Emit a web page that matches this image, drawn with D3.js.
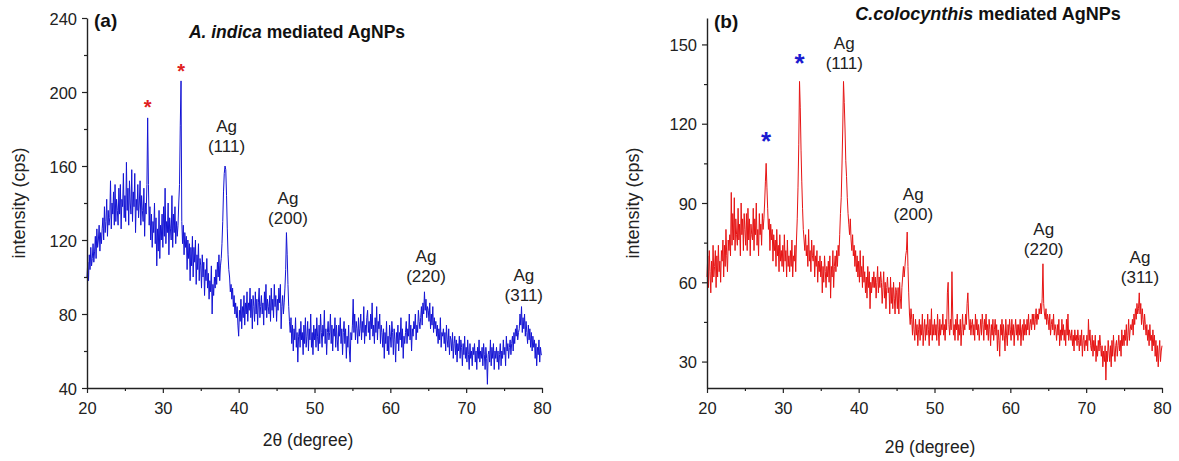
<!DOCTYPE html>
<html><head><meta charset="utf-8">
<script src="https://cdn.jsdelivr.net/npm/d3@7"></script>
<style>
html,body{margin:0;padding:0;background:#fff;}
svg{display:block;font-family:"Liberation Sans",Arial,sans-serif;}
</style></head>
<body><svg id="c" width="1179" height="461"></svg>
<script>
// 2θ grid: 20.0 → 80.0 in 0.1° steps (one row = 1°)
const thetaStart = 20, thetaStep = 0.1;
// Panel (a) A. indica intensity (cps)
const intensityA = [
100,108,98,112,104,116,106,110,118,108,
114,122,110,126,116,120,128,114,124,118,
126,132,120,138,124,130,142,122,136,128,
132,152,126,140,134,146,128,150,130,142,
136,128,148,134,150,126,142,138,156,132,
144,130,162,136,148,128,152,140,134,158,
130,146,138,156,124,142,136,150,132,140,
152,128,144,136,130,148,122,140,134,150,
186,150,128,138,120,134,116,130,124,140,
118,132,106,126,114,136,110,128,120,134,
116,138,122,148,118,130,124,140,112,132,
126,120,144,116,134,124,138,118,130,122,
128,140,150,182,206,130,118,128,112,124,
116,122,104,120,110,118,98,116,106,122,
100,116,108,120,96,112,104,118,98,110,
106,94,112,100,108,90,104,98,110,94,
102,88,98,92,106,80,96,90,100,94,
104,96,108,100,112,98,106,110,118,130,
146,156,160,158,144,126,112,104,100,92,
96,88,94,84,90,80,86,78,84,74,
68,82,76,88,72,84,78,90,74,86,
80,92,76,86,82,94,78,88,72,90,
84,76,92,80,88,74,86,94,78,84,
90,80,86,74,92,82,96,78,88,84,
80,90,76,94,82,88,78,96,84,90,
76,88,82,94,86,96,72,84,90,80,
86,94,104,124,112,96,84,76,70,78,
64,74,60,72,66,78,62,70,54,68,
72,62,76,66,70,58,74,64,78,62,
68,76,60,72,66,80,62,70,58,74,
66,72,62,78,68,60,74,64,80,70,
62,74,68,82,64,72,58,70,76,66,
70,80,64,74,60,72,68,78,62,74,
66,60,74,68,78,64,72,58,70,76,
64,72,56,68,62,74,60,54,70,66,
74,88,70,80,66,76,72,64,78,68,
72,80,66,76,70,84,64,74,68,78,
82,70,76,66,80,72,86,68,74,64,
78,70,84,66,76,72,80,64,74,70,
62,72,56,70,64,76,60,68,58,74,
68,62,76,70,58,72,66,54,70,64,
74,60,70,66,78,62,72,56,68,64,
70,76,64,72,68,80,66,74,60,72,
68,76,72,80,66,74,70,82,76,72,
78,84,74,86,80,92,82,88,78,84,
82,76,86,72,80,74,84,70,78,72,
76,68,74,64,72,66,78,62,70,68,
72,64,70,60,74,66,62,72,58,68,
66,60,70,56,64,68,58,66,54,64,
60,68,56,66,62,52,64,58,68,56,
62,54,66,58,50,64,56,60,52,62,
58,64,54,60,50,62,56,66,54,60,
56,62,52,64,58,50,62,56,42,58,
60,54,66,52,62,56,64,50,60,56,
62,54,60,50,58,64,52,60,56,66,
58,62,52,68,60,64,56,62,66,58,
64,68,60,70,64,72,68,74,66,70,
72,80,74,84,70,78,72,80,68,76,
70,64,74,66,72,62,70,60,68,62,
66,56,64,52,62,58,66,54,62,58,
58];
// Panel (b) C. colocynthis intensity (cps)
const intensityB = [
62,70,58,72,64,56,68,60,74,62,
66,72,58,70,62,74,64,68,60,72,
68,76,62,74,66,80,70,64,76,72,
78,70,94,74,86,76,92,72,84,78,
74,88,76,82,70,90,78,84,72,86,
80,74,86,72,88,76,84,70,82,78,
76,88,72,84,78,90,74,80,70,86,
78,82,74,86,80,84,90,98,105,96,
88,80,84,72,82,76,80,68,78,72,
76,66,80,70,74,64,78,68,72,66,
74,64,78,68,72,62,76,66,70,64,
72,66,76,62,70,68,74,64,76,84,
96,112,136,126,110,98,88,80,76,72,
78,70,74,66,80,68,72,64,76,70,
68,74,62,70,66,72,60,68,64,70,
62,68,56,66,60,70,64,58,66,62,
68,60,70,54,66,62,72,58,66,70,
64,72,66,74,70,78,86,92,104,118,
136,128,118,106,100,92,86,82,78,84,
76,72,78,70,74,66,72,64,70,62,
68,60,72,62,66,58,70,60,64,56,
62,54,66,58,64,50,60,56,62,58,
64,58,62,54,60,66,56,62,58,64,
60,52,58,64,54,60,50,58,62,56,
58,48,62,52,58,50,60,54,48,58,
56,50,58,48,60,54,50,58,62,66,
62,66,70,72,79,66,56,48,44,50,
46,40,48,42,38,46,40,44,36,42,
46,38,44,40,48,36,42,46,38,44,
40,48,42,36,46,40,50,38,44,40,
46,40,44,38,48,42,36,46,40,44,
42,48,40,44,38,46,42,56,60,44,
40,46,42,64,48,40,44,38,46,42,
48,38,44,40,46,36,42,48,40,44,
42,48,44,52,56,48,42,46,40,44,
46,40,44,38,48,42,46,40,44,38,
42,46,40,48,44,38,46,42,48,40,
44,38,46,42,36,44,40,46,38,42,
46,40,44,34,42,38,32,44,40,46,
38,44,40,34,46,40,36,44,40,46,
42,38,46,40,44,36,42,46,40,44,
38,44,40,46,36,42,44,38,46,40,
44,40,46,42,48,40,44,46,42,48,
44,48,42,46,50,44,48,46,50,48,
52,48,54,67,52,48,46,50,44,48,
46,42,48,40,44,46,42,48,40,44,
42,38,44,40,46,36,42,38,46,40,
44,38,42,36,46,40,48,38,42,40,
38,42,36,40,34,42,38,40,36,42,
38,34,40,36,42,32,38,40,34,38,
36,40,34,46,38,42,36,34,40,32,
38,34,40,30,36,32,38,34,40,36,
32,36,28,34,30,36,23,34,30,38,
34,30,36,28,38,32,40,34,30,36,
38,32,36,40,34,38,32,42,36,40,
36,42,38,44,36,40,46,38,42,44,
42,46,40,48,44,50,46,52,48,50,
56,48,52,44,50,46,42,48,44,40,
44,38,42,36,44,38,40,34,42,36,
40,32,38,30,36,28,34,38,30,34,
36];
const xTicks = [20,30,40,50,60,70,80];
const xMinor = [25,35,45,55,65,75];
const yTicksA = [40,80,120,160,200,240];
const yMinorA = [60,100,140,180,220];
const yTicksB = [30,60,90,120,150];
const yMinorB = [45,75,105,135];
// peak annotations: label position in 2θ
const peakLabelsA = [{t:38.4,hkl:"(111)"},{t:46.5,hkl:"(200)"},{t:64.7,hkl:"(220)"},{t:77.6,hkl:"(311)"}];
const starsA = [28.0, 32.4];
const peakLabelsB = [{t:38.1,hkl:"(111)"},{t:47.2,hkl:"(200)"},{t:64.4,hkl:"(220)"},{t:77.1,hkl:"(311)"}];
const starsB = [27.8, 32.2];

const svg = d3.select("#c");

function panel(cfg){
  const g = svg.append("g");
  const x = d3.scaleLinear().domain([20,80]).range([cfg.x0, cfg.x1]);
  const y = d3.scaleLinear().domain(cfg.ydom).range([388, 18]);
  const pts = cfg.data.map((v,i)=>[thetaStart + i*thetaStep, v]);
  g.append("path").datum(pts)
    .attr("d", d3.line().x(d=>x(d[0])).y(d=>y(d[1])))
    .attr("fill","none").attr("stroke",cfg.color).attr("stroke-width",1).attr("stroke-linejoin","round");
  // axes
  const ax = g.append("g").attr("transform",`translate(0,388)`)
    .call(d3.axisBottom(x).tickValues(xTicks).tickSize(5).tickSizeOuter(0).tickFormat(d3.format("d")));
  g.append("g").attr("transform",`translate(0,388)`)
    .call(d3.axisBottom(x).tickValues(xMinor).tickSize(3).tickSizeOuter(0).tickFormat(""))
    .select(".domain").remove();
  const ay = g.append("g").attr("transform",`translate(${cfg.x0},0)`)
    .call(d3.axisLeft(y).tickValues(cfg.yt).tickSize(5).tickSizeOuter(0).tickFormat(d3.format("d")));
  g.append("g").attr("transform",`translate(${cfg.x0},0)`)
    .call(d3.axisLeft(y).tickValues(cfg.ym).tickSize(3).tickSizeOuter(0).tickFormat(""))
    .select(".domain").remove();
  g.selectAll(".domain").attr("stroke","#222").attr("stroke-width",1.4);
  g.selectAll(".tick line").attr("stroke","#222").attr("stroke-width",1.2);
  ax.selectAll("text").attr("font-size",16.5).attr("fill","#222").attr("dy",null).attr("y",20).attr("dominant-baseline","central");
  ay.selectAll("text").attr("font-size",16.5).attr("fill","#222").attr("x",-10).attr("dy",null).attr("dominant-baseline","central");
  // axis titles
  g.append("text").attr("x",cfg.xlabX).attr("y",cfg.xlabY).attr("text-anchor","middle").attr("dominant-baseline","central")
    .attr("font-size",17.5).attr("fill","#222")
    .text("2\u03B8 (degree)");
  g.append("text").attr("transform",`translate(${cfg.ylabX},203) rotate(-90)`)
    .attr("text-anchor","middle").attr("dominant-baseline","central").attr("font-size",18).attr("fill","#222")
    .text("intensity (cps)");
  // panel letter
  g.append("text").attr("x",cfg.x0+7).attr("y",cfg.letterY).attr("dominant-baseline","central").attr("font-size",19).attr("font-weight","bold").attr("fill","#111").text(cfg.letter);
  // title
  const t = g.append("text").attr("x",cfg.titleX).attr("y",cfg.titleY).attr("text-anchor","middle").attr("dominant-baseline","central")
    .attr("font-size",cfg.titleSize).attr("font-weight","bold").attr("fill","#111");
  t.append("tspan").attr("font-style","italic").text(cfg.titleIt);
  t.append("tspan").text(cfg.titleRest);
  // peak labels
  cfg.labels.forEach((p,i)=>{
    const lx = x(p.t), ly = cfg.labelY[i];
    g.append("text").attr("x",lx).attr("y",ly).attr("text-anchor","middle").attr("dominant-baseline","central").attr("font-size",17).attr("fill","#222").text("Ag");
    g.append("text").attr("x",lx).attr("y",ly+20.5).attr("text-anchor","middle").attr("dominant-baseline","central").attr("font-size",17).attr("fill","#222").text(p.hkl);
  });
  cfg.stars.forEach((s,i)=>{
    g.append("text").attr("x",x(s)).attr("y",cfg.starY[i] + 0.58*cfg.starSize).attr("text-anchor","middle")
      .attr("font-size",cfg.starSize).attr("font-weight","bold").attr("fill",cfg.starColor).text("*");
  });
}

panel({x0:87,x1:542,ydom:[40,240],data:intensityA,color:"#1414d4",yt:yTicksA,ym:yMinorA,
  xlabX:308,xlabY:440,ylabX:19,letterY:20,letter:"(a)",titleX:297,titleY:32,titleSize:17.5,titleIt:"A. indica",titleRest:" mediated AgNPs",
  labels:peakLabelsA,labelY:[126,198,256,275],stars:starsA,starY:[102,66],starSize:20,starColor:"#e02020"});
panel({x0:707,x1:1162,ydom:[20,160],data:intensityB,color:"#e61414",yt:yTicksB,ym:yMinorB,
  xlabX:930,xlabY:447,ylabX:633,letterY:21,letter:"(b)",titleX:988,titleY:14,titleSize:18,titleIt:"C.colocynthis",titleRest:" mediated AgNPs",
  labels:peakLabelsB,labelY:[43,194,229,257],stars:starsB,starY:[135,57],starSize:26,starColor:"#1a1ad0"});
</script>
</body></html>
